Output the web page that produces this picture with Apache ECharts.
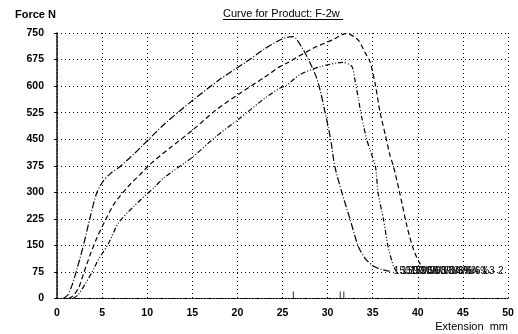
<!DOCTYPE html>
<html>
<head>
<meta charset="utf-8">
<script src="https://cdn.jsdelivr.net/npm/echarts@6/dist/echarts.min.js"></script>
<style>
html,body{margin:0;padding:0;background:#fff;}
#main{width:518px;height:334px;}
</style>
</head>
<body>
<div id="main"></div>
<script>
// x ticks every 5 mm, y ticks every 75 N
var xTicks = [0, 5, 10, 15, 20, 25, 30, 35, 40, 45, 50];
var yTicks = [0, 75, 150, 225, 300, 375, 450, 525, 600, 675, 750];

// curve 1 (dash dot)
var curve1 = [[0.7,0],[1.2,10],[1.7,40],[2.2,82],[2.9,147],[3.7,232],[4.4,298],[5.1,331],[6,355],[7,373],[8.6,410],[9.2,425],[12,495],[15.1,561],[18,618],[21,669],[23,705],[24.7,730],[25.5,738],[26.2,740],[27.1,711],[28,669],[28.8,622],[29.3,575],[29.7,528],[30.1,481],[30.4,440],[30.8,373],[31.6,298],[32.5,223],[33.4,147],[34.2,112],[35.1,91],[36,82],[36.9,77]];
// curve 2 (dashed)
var curve2 = [[1.3,0],[1.8,8],[2.4,30],[3.0,75],[3.7,125],[4.4,170],[5.3,218],[6.4,270],[7.9,317],[9.2,350],[10.5,383],[12.5,425],[15.1,477],[17.5,530],[20.3,580],[23,625],[24.7,655],[25.5,665],[28.4,707],[30.5,730],[32.1,749],[33.4,730],[34.1,697],[34.7,669],[35.3,603],[35.8,528],[36.4,462],[36.9,406],[37.3,373],[38.0,298],[38.8,204],[39.5,140],[40.2,100],[40.6,88]];
// curve 3 (dash dot dot)
var curve3 = [[1.8,0],[2.4,12],[3.1,40],[3.9,75],[4.6,110],[5.7,155],[6.8,213],[8.5,260],[10.9,317],[11.8,340],[15.1,401],[17.5,455],[20.3,510],[23,565],[24.7,594],[25.5,603],[26.9,632],[29.2,655],[31.7,667],[32.7,655],[33.0,622],[33.4,566],[33.8,510],[34.3,453],[34.7,420],[35.3,373],[35.6,298],[36.2,223],[36.7,147],[37.3,91],[37.6,77]];
// little markers on the x axis at the peaks
var peakX = [26.2, 31.4, 31.8];

var endText = ['150/90/60/3%/6% - 1', '150/90/60/3%/6% - 2', '150/90/60/3%/6% - 3'];

var myChart = echarts.init(document.getElementById('main'));

var dotGrid = {show: true, lineStyle: {color: '#000', width: 1, type: [1, 3]}};
var tickFont = {color: '#000', fontFamily: 'Liberation Sans', fontWeight: 'bold', fontSize: 10.5};

function curve(data, dash, label, off) {
	return {
		type: 'line',
		data: data,
		showSymbol: false,
		smooth: 0.25,
		lineStyle: {color: '#000', width: 1.2, type: dash},
		endLabel: {
			show: true,
			formatter: label,
			color: '#000',
			fontFamily: 'Liberation Sans',
			fontSize: 10,
			distance: 4,
			offset: off
		},
		z: 3
	};
}

var option = {
	animation: false,
	backgroundColor: '#fff',
	grid: {left: 57, right: 10, top: 33, bottom: 35.5},
	xAxis: {
		type: 'value',
		min: 0, max: 50, interval: 5,
		axisLine: {show: true, lineStyle: {color: '#000', width: 1, type: [2, 1]}},
		axisTick: {show: false},
		axisLabel: Object.assign({margin: 9}, tickFont),
		splitLine: dotGrid
	},
	yAxis: {
		type: 'value',
		min: 0, max: 750, interval: 75,
		axisLine: {show: true, lineStyle: {color: '#000', width: 1.5, type: [2, 1]}},
		axisTick: {show: true, length: 3, lineStyle: {color: '#000'}},
		axisLabel: Object.assign({margin: 13}, tickFont),
		splitLine: dotGrid
	},
	graphic: [
		{type: 'text', left: 15, top: 9, style: {text: 'Force N', fill: '#000', font: 'bold 11px "Liberation Sans"'}},
		{type: 'text', left: 223, top: 8, style: {text: 'Curve for Product: F-2w', fill: '#000', font: '11px "Liberation Sans"'}},
		{type: 'line', shape: {x1: 223, y1: 19.5, x2: 343, y2: 19.5}, style: {stroke: '#000', lineWidth: 1}},
		{type: 'text', right: 10, top: 321, style: {text: 'Extension  mm', fill: '#000', font: '11px "Liberation Sans"'}}
	],
	series: [
		curve(curve1, [7, 2, 1, 2], endText[0], [0, 0]),
		curve(curve3, [5, 2, 1, 2, 1, 2], endText[2], [1, 0]),
		curve(curve2, [5, 3], endText[1], [-17, 4]),
		{
			type: 'scatter',
			data: peakX.map(function (x) { return [x, 0]; }),
			symbol: 'rect',
			symbolSize: [1, 7],
			symbolOffset: [0, -3.5],
			itemStyle: {color: '#000'},
			silent: true,
			z: 4
		}
	]
};
myChart.setOption(option);
</script>
</body>
</html>
